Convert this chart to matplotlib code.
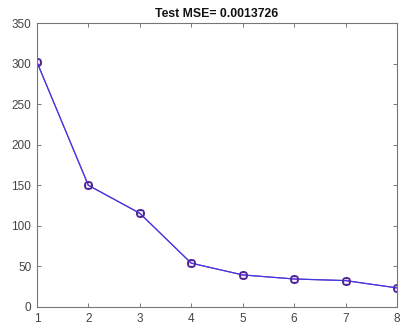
import matplotlib
matplotlib.use("Agg")
import matplotlib.pyplot as plt

x = [1, 2, 3, 4, 5, 6, 7, 8]
y = [302, 150, 115.5, 54, 39.5, 34.5, 32.5, 23.5]
title = "Test MSE= 0.0013726"

plt.rcParams["font.family"] = ["Liberation Sans", "DejaVu Sans"]

fig = plt.figure(figsize=(4.01, 3.29), dpi=100)
ax = fig.add_axes([0.092, 0.067, 0.898, 0.863])

# two overlaid series, like the MATLAB original
ax.plot(x, y, color="#c03090", linewidth=0.8, marker="s", markersize=5,
        markerfacecolor="none", markeredgecolor="#6a1a8a", markeredgewidth=1.0)
ax.plot(x, y, color="#3b3bea", linewidth=0.9, marker="o", markersize=5.5,
        markerfacecolor="none", markeredgecolor="#4a2a9a", markeredgewidth=1.0)

ax.set_xlim(1, 8)
ax.set_ylim(0, 350)
ax.set_xticks(x)
ax.set_yticks(range(0, 351, 50))
ax.set_title(title, fontsize=8.8, fontweight="bold", pad=4, color="#111111")

for s in ax.spines.values():
    s.set_color("#777777")
    s.set_linewidth(0.8)
ax.tick_params(direction="in", length=3, width=0.7, colors="#777777",
               labelcolor="#444444", labelsize=8.5, top=True, right=True, pad=4)

fig.savefig("out.png", dpi=100)
